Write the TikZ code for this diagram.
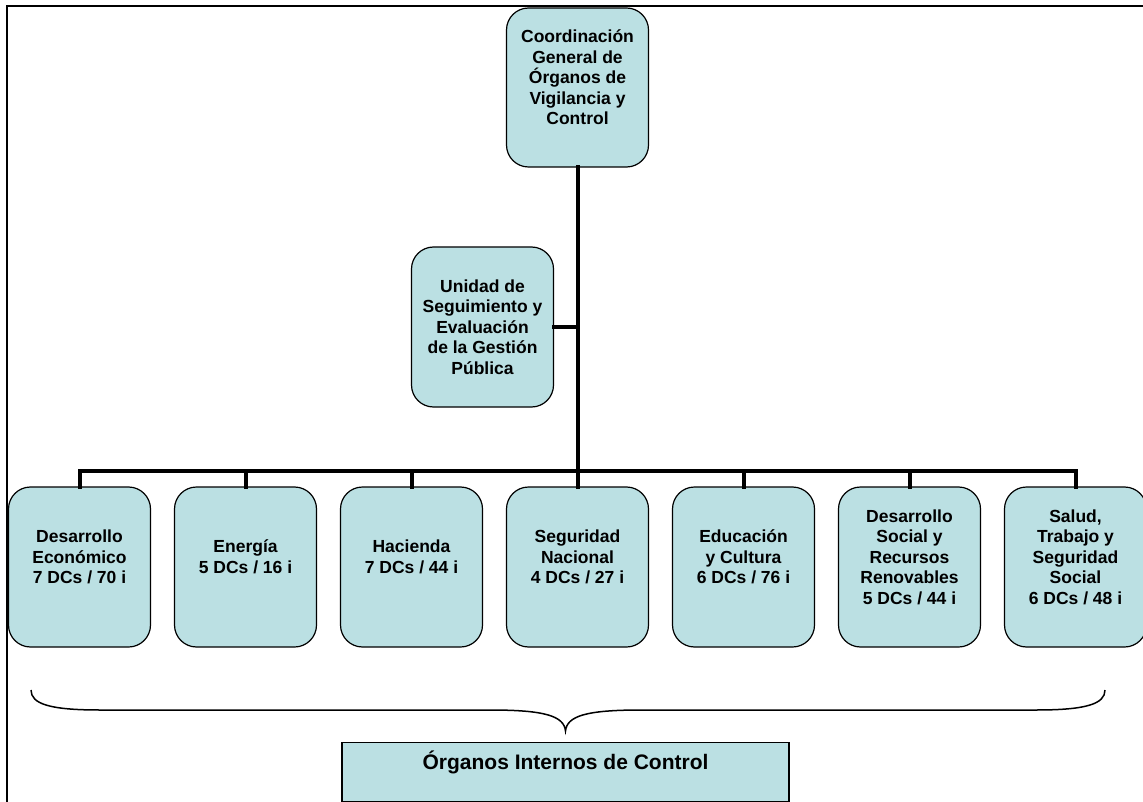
\documentclass[tikz,border=0pt]{standalone}
\usepackage{fontspec}
\setmainfont{Liberation Sans}
\usetikzlibrary{positioning}

\definecolor{boxcyan}{RGB}{187,224,227}

\tikzset{
  unitbox/.style = {draw, line width=1.2pt, fill=boxcyan, rounded corners=22pt,
                    minimum width=142pt, minimum height=160pt,
                    inner sep=0pt, outer sep=0pt},
  unittext/.style = {align=center, inner sep=0pt,
                     font=\bfseries\fontsize{17.5}{20.5}\selectfont},
  link/.style = {line width=4pt, line cap=rect},
}

\begin{document}
\begin{tikzpicture}[x=1pt, y=-1pt]
  \useasboundingbox (0,0) rectangle (1143,802);

  % frame
  \draw[line width=2pt] (7,802) -- (7,6) -- (1143,6);

  % head and staff unit
  \node[unitbox, minimum height=159pt] (cgovc) at (577.5,87.5) {};
  \node[unittext] at ([yshift=10pt]cgovc.center)
    {Coordinación\\General de\\Órganos de\\Vigilancia y\\Control};

  \node[unitbox] (usegp) at (482.5,327) {};
  \node[unittext] at (usegp.center)
    {Unidad de\\Seguimiento y\\Evaluación\\de la Gestión\\Pública};

  % sectors
  \node[unitbox] (eco) at (79.5,567) {};
  \node[unitbox, right=24pt of eco] (ene) {};
  \node[unitbox, right=24pt of ene] (hac) {};
  \node[unitbox, right=24pt of hac] (seg) {};
  \node[unitbox, right=24pt of seg] (edu) {};
  \node[unitbox, right=24pt of edu] (soc) {};
  \node[unitbox, right=24pt of soc] (sal) {};

  \node[unittext] at ([yshift=10pt]eco.center) {Desarrollo\\Económico\\7 DCs / 70 i};
  \node[unittext] at ([yshift=10pt]ene.center) {Energía\\5 DCs / 16 i};
  \node[unittext] at ([yshift=10pt]hac.center) {Hacienda\\7 DCs / 44 i};
  \node[unittext] at ([yshift=10pt]seg.center) {Seguridad\\Nacional\\4 DCs / 27 i};
  \node[unittext] at ([yshift=10pt]edu.center) {Educación\\y Cultura\\6 DCs / 76 i};
  \node[unittext] at ([yshift=10pt]soc.center) {Desarrollo\\Social y\\Recursos\\Renovables\\5 DCs / 44 i};
  \node[unittext] at ([yshift=10pt]sal.center) {Salud,\\Trabajo y\\Seguridad\\Social\\6 DCs / 48 i};

  % lines
  \coordinate (bus) at (seg.north |- 0,471);
  \draw[link] (cgovc.south) -- (seg.north);
  \draw[link] (usegp.east) -- (usegp.east -| bus);
  \draw[link] (eco.north |- bus) -- (sal.north |- bus);
  \foreach \n in {eco,ene,hac,seg,edu,soc,sal}
    \draw[link] (\n.north) -- (\n.north |- bus);

  % brace and internal control bodies
  \coordinate (tip) at (565.5,731);
  \draw[line width=1.5pt] (31,690) .. controls (31,704) and (50,710) .. (100,710)
    -- (490,710) .. controls (545,710) and (564,716) .. (tip)
    .. controls (567,716) and (586,710) .. (641,710)
    -- (1036,710) .. controls (1086,710) and (1105,704) .. (1105,690);

  \node[draw, line width=1.2pt, fill=boxcyan, minimum width=447pt,
        minimum height=59pt, inner sep=0pt] (oic) at (565.5,772) {};
  \node[unittext, font=\bfseries\fontsize{21}{24}\selectfont]
    at ([yshift=10pt]oic.center) {Órganos Internos de Control};
\end{tikzpicture}
\end{document}
